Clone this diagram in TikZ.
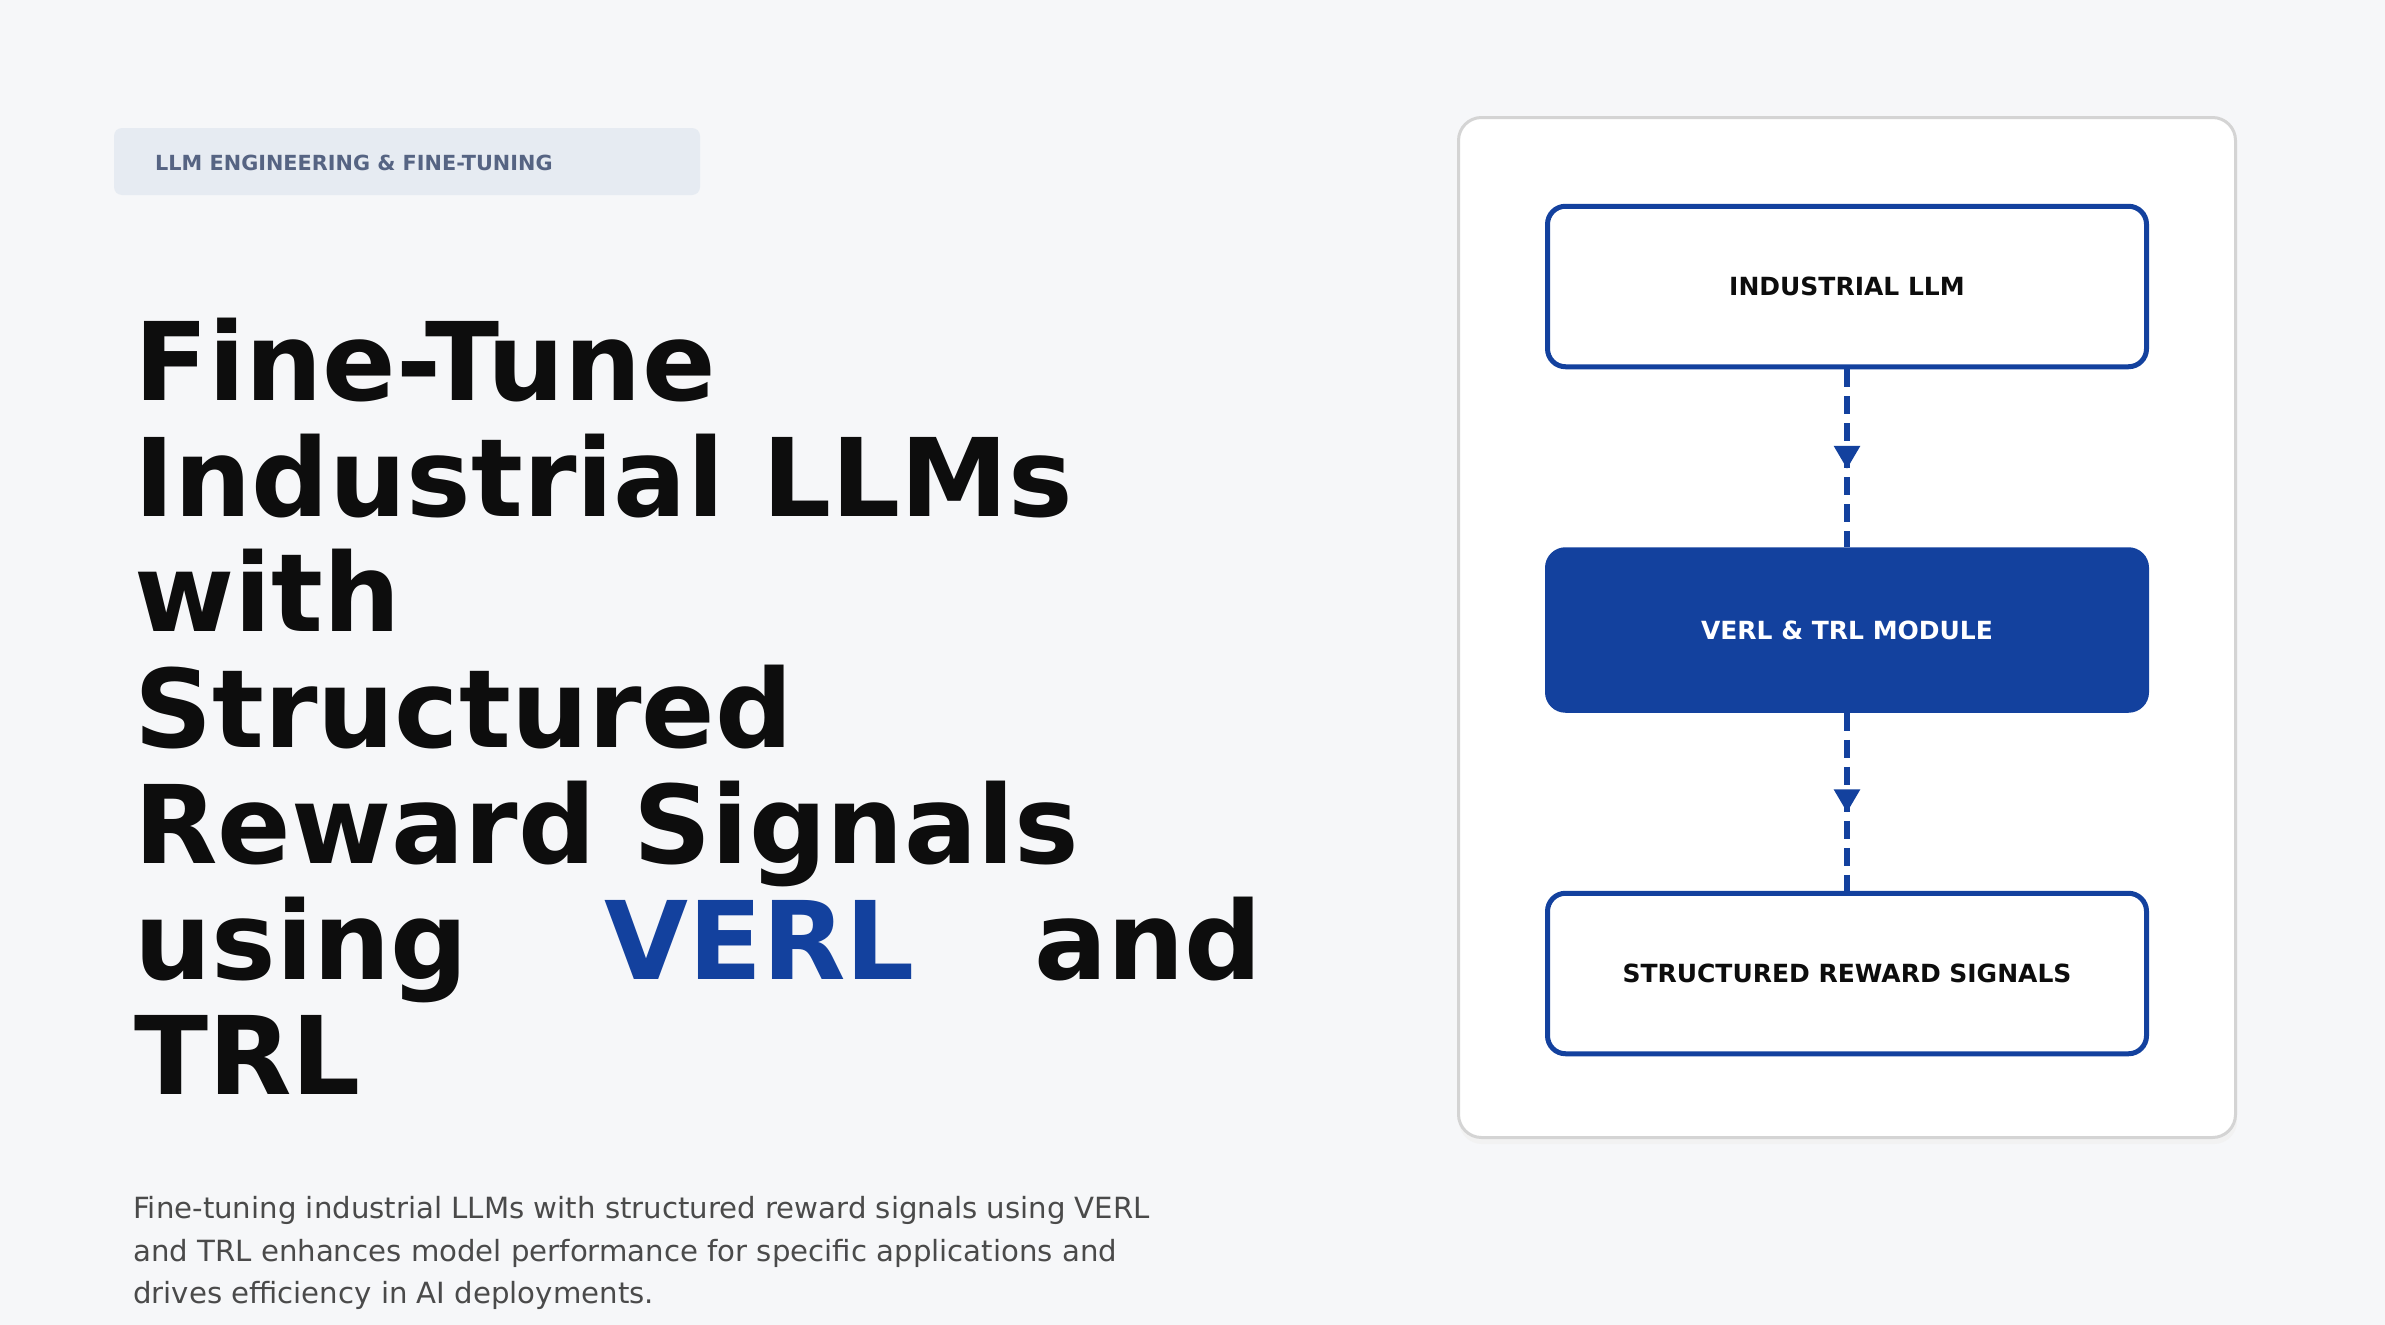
\documentclass[tikz,border=0pt]{standalone}
\usepackage{fontspec}
\setmainfont{DejaVu Sans}
\usepackage{xcolor}
\usetikzlibrary{arrows.meta,positioning,decorations.markings}

\definecolor{pagebg}{HTML}{F6F7F9}
\definecolor{badgebg}{HTML}{E6EBF2}
\definecolor{badgetxt}{HTML}{566483}
\definecolor{deepblue}{HTML}{13419E}
\definecolor{inkblack}{HTML}{0D0D0D}
\definecolor{bodygray}{HTML}{4A4A4A}
\definecolor{panelline}{HTML}{D4D4D4}

\tikzset{
  headline/.style={anchor=base west, inner sep=0pt, text=inkblack,
    font=\fontsize{108.5}{116}\selectfont\bfseries},
  bodyline/.style={anchor=base west, inner sep=0pt, text=bodygray,
    font=\fontsize{29.2}{33}\selectfont},
  stagebox/.style={draw=deepblue, line width=5pt, rounded corners=18pt,
    fill=white, minimum width=599pt, minimum height=160.5pt,
    font=\fontsize{25}{29}\selectfont\bfseries, text=inkblack},
  flow/.style={draw=deepblue, line width=5.5pt, dash pattern=on 18pt off 9pt,
    postaction={decorate},
    decoration={markings, mark=at position 0.56 with
      {\arrow{Triangle[length=23pt,width=25pt]}}}}
}

\begin{document}
\begin{tikzpicture}[x=1pt,y=-1pt]
\useasboundingbox (0,0) rectangle (2385,1325);
\fill[pagebg] (0,0) rectangle (2385,1325);

% badge
\node[fill=badgebg, rounded corners=8pt, minimum width=586pt, minimum height=67pt, inner sep=0pt] (badge) at (407,161.5) {};
\node[anchor=west, inner sep=0pt, text=badgetxt, font=\fontsize{20.8}{24}\selectfont\bfseries] (badgetext) at (155,163) {LLM ENGINEERING \& FINE-TUNING};

% title
\node[headline] (lineA) at (134,400) {Fine-Tune};
\node[headline] (lineB) at (134,516) {Industrial LLMs};
\node[headline] (lineC) at (134,631) {with};
\node[headline] (lineD) at (134,747) {Structured};
\node[headline] (lineE) at (134,863) {Reward Signals};
\node[headline] (lineF) at (134,979) {using};
\node[headline, text=deepblue] (verlword) at (604,979) {VERL};
\node[headline] (andword) at (1034,979) {and};
\node[headline] (lineG) at (134,1094) {TRL};

% summary
\node[bodyline] (sumA) at (133,1218.5) {Fine-tuning industrial LLMs with structured reward signals using VERL};
\node[bodyline] (sumB) at (133,1261.5) {and TRL enhances model performance for specific applications and};
\node[bodyline] (sumC) at (133,1303.5) {drives efficiency in AI deployments.};

% panel
\fill[black!5, rounded corners=23pt] (1459,122) rectangle (2237,1144);
\node[draw=panelline, line width=3pt, fill=white, rounded corners=23pt,
  minimum width=777pt, minimum height=1020pt] (panel) at (1847,627.5) {};

% stages
\node[stagebox] (llm) at (1847,286.5) {INDUSTRIAL LLM};
\node[stagebox, fill=deepblue, text=white, below=178pt of llm] (verl) {VERL \& TRL MODULE};
\node[stagebox, below=178pt of verl] (reward) {STRUCTURED REWARD SIGNALS};

\draw[flow] (llm) -- (verl);
\draw[flow] (verl) -- (reward);
\end{tikzpicture}
\end{document}
